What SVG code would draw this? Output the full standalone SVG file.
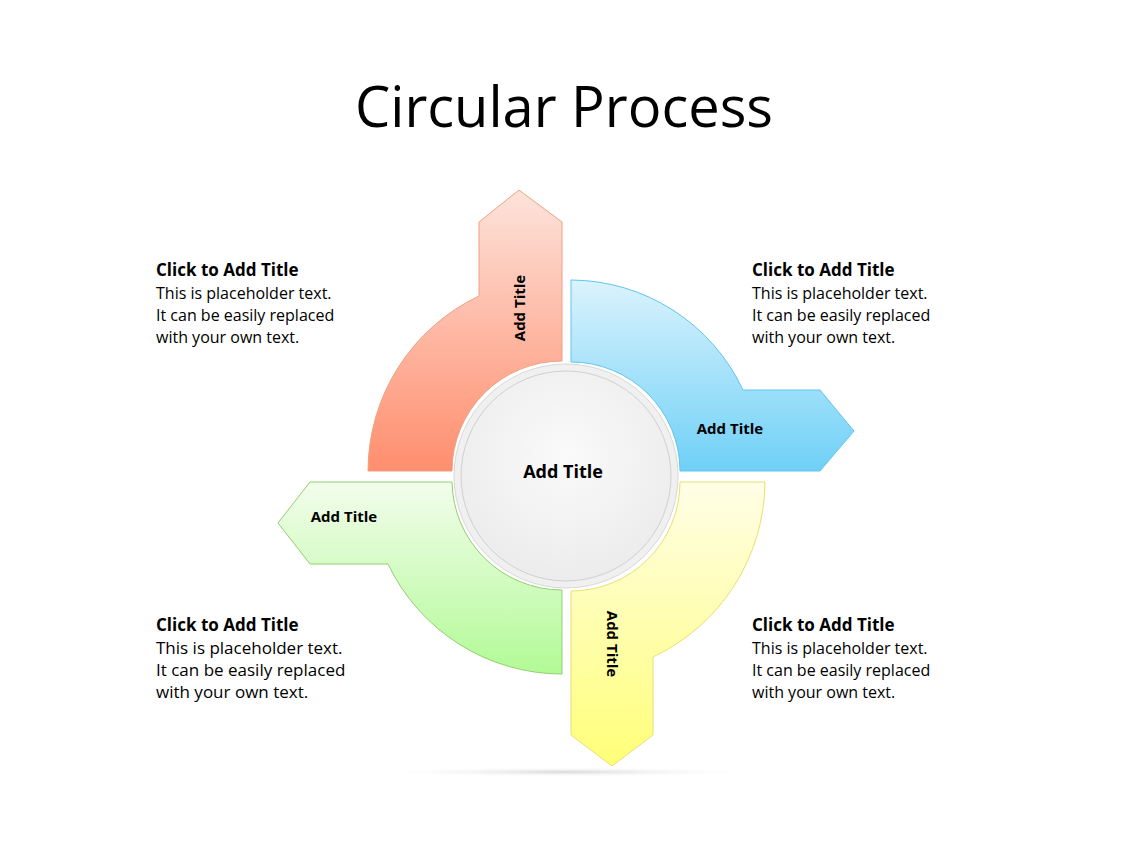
<svg xmlns="http://www.w3.org/2000/svg" width="1128" height="846" viewBox="0 0 1128 846">
<style>
text{font-family:"Open Sans","Liberation Sans",sans-serif;fill:#000}
.t{font-size:17px;font-weight:bold}
.b{font-size:16px}
.l{font-size:15px;font-weight:bold}
</style>
<defs>
<linearGradient id="gr" x1="0" y1="0" x2="0" y2="1"><stop offset="0" stop-color="#fde3db"/><stop offset="1" stop-color="#ff8e6e"/></linearGradient>
<linearGradient id="gb" x1="0" y1="0" x2="0" y2="1"><stop offset="0" stop-color="#dbf3fd"/><stop offset="1" stop-color="#6fd0f7"/></linearGradient>
<linearGradient id="gy" x1="0" y1="0" x2="0" y2="1"><stop offset="0" stop-color="#fffde6"/><stop offset="1" stop-color="#ffff78"/></linearGradient>
<linearGradient id="gg" x1="0" y1="0" x2="0" y2="1"><stop offset="0" stop-color="#f3fdec"/><stop offset="1" stop-color="#b2fa96"/></linearGradient>
<radialGradient id="gc" cx="0.5" cy="0.4" r="0.6"><stop offset="0" stop-color="#fafafa"/><stop offset="1" stop-color="#ececec"/></radialGradient>
<radialGradient id="sh"><stop offset="0" stop-color="#d8d8d8"/><stop offset="1" stop-color="#fff" stop-opacity="0"/></radialGradient>
</defs>
<rect width="1128" height="846" fill="#fff"/>
<text x="564" y="127" text-anchor="middle" style="font-size:56px">Circular Process</text>
<ellipse cx="566" cy="772" rx="190" ry="5" fill="url(#sh)"/>
<g id="red"><path d="M368,471 A194,194 0 0 1 479,296 L479,222 L519,190 L562,222 L562,361 A110,110 0 0 0 452,471 Z" fill="url(#gr)" stroke="#f0a080"/>
<text class="l" transform="translate(520,308) rotate(-90)" text-anchor="middle" dy="5">Add Title</text></g>
<g id="blue"><path d="M571,280 A191,191 0 0 1 743,390 L820,390 L854,431 L820,471 L680,471 A109,109 0 0 0 571,362 Z" fill="url(#gb)" stroke="#5ec6ef"/>
<text class="l" x="730" y="434" text-anchor="middle">Add Title</text></g>
<g id="yellow"><path d="M680,482 L765,482 A195,195 0 0 1 653,657 L653,735 L612,766 L571,735 L571,591 A109,109 0 0 0 680,482 Z" fill="url(#gy)" stroke="#e8e070"/>
<text class="l" transform="translate(612,644) rotate(90)" text-anchor="middle" dy="5">Add Title</text></g>
<g id="green"><path d="M562,590 L562,674 A193,193 0 0 1 388,564 L310,564 L278,523 L310,482 L452,482 A110,110 0 0 0 562,590 Z" fill="url(#gg)" stroke="#90d070"/>
<text class="l" x="344" y="522" text-anchor="middle">Add Title</text></g>
<g id="center"><circle cx="566" cy="476" r="112" fill="#f0f0f0" stroke="#d8d8d8"/>
<circle cx="566" cy="476" r="105" fill="url(#gc)" stroke="#d0d0d0"/>
<text x="563" y="478" text-anchor="middle" style="font-size:18px;font-weight:bold">Add Title</text></g>
<g id="tl"><text class="t" x="156" y="276">Click to Add Title</text><text class="b" x="156" y="299">This is placeholder text.</text><text class="b" x="156" y="321">It can be easily replaced</text><text class="b" x="156" y="343">with your own text.</text></g>
<g id="tr"><text class="t" x="752" y="276">Click to Add Title</text><text class="b" x="752" y="299">This is placeholder text.</text><text class="b" x="752" y="321">It can be easily replaced</text><text class="b" x="752" y="343">with your own text.</text></g>
<g id="bl"><text class="t" x="156" y="631">Click to Add Title</text><text class="b" x="156" y="654" style="font-size:17px">This is placeholder text.</text><text class="b" x="156" y="676" style="font-size:17px">It can be easily replaced</text><text class="b" x="156" y="698" style="font-size:17px">with your own text.</text></g>
<g id="br"><text class="t" x="752" y="631">Click to Add Title</text><text class="b" x="752" y="654">This is placeholder text.</text><text class="b" x="752" y="676">It can be easily replaced</text><text class="b" x="752" y="698">with your own text.</text></g>
<g id="connectors"/>
</svg>
